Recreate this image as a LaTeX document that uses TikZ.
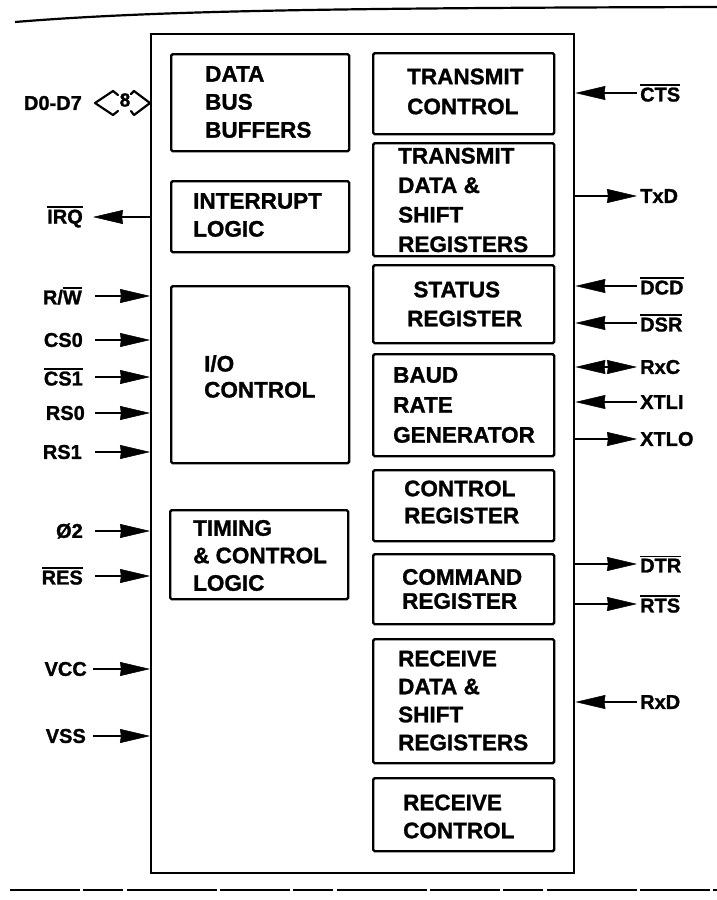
\documentclass[tikz,border=0pt]{standalone}
\usepackage{fontspec}
\setmainfont{Liberation Sans}[BoldFeatures={FakeBold=1.2}]
\usetikzlibrary{arrows.meta}
\newcommand{\ovl}[1]{\leavevmode\vbox{\hrule height 1.6pt\kern 1.6pt\hbox{#1}}}
\begin{document}
\begin{tikzpicture}[x=1pt,y=-1pt,
  blk/.style={draw,line width=2.4pt,rounded corners=1.5pt,inner sep=0pt},
  blktext/.style={anchor=west,align=left,inner sep=0pt,font=\fontsize{22.5}{28}\selectfont\bfseries},
  pinl/.style={anchor=east,inner sep=0pt,font=\fontsize{20}{24}\selectfont\bfseries},
  pinr/.style={anchor=west,inner sep=0pt,font=\fontsize{20}{24}\selectfont\bfseries},
  ahead/.tip={Stealth[length=30pt,width=14pt,inset=1pt,line width=0.5pt]},
  sig/.style={line width=2.2pt,-ahead},
  sigb/.style={line width=2.2pt,ahead-ahead},
]
\useasboundingbox (0,0) rectangle (717,900);
% page edges of the scan
\draw[line width=2.2pt] (15,22) .. controls (150,11) and (320,8) .. (717,7);
\draw[line width=2pt,dash pattern=on 70pt off 3pt on 40pt off 4pt on 90pt off 3pt] (10,890) -- (717,890);

% chip outline
\node[blk,rounded corners=0pt,anchor=north west,minimum width=423pt,minimum height=839pt] (chip) at (150,33) {};

% left column blocks
\node[blk,anchor=north west,minimum width=178pt,minimum height=97pt] (dbb) at (170,53) {};
\node[blk,anchor=north west,minimum width=178pt,minimum height=71pt] (irl) at (170,180) {};
\node[blk,anchor=north west,minimum width=178pt,minimum height=177pt] (ioc) at (170,285) {};
\node[blk,anchor=north west,minimum width=178pt,minimum height=89pt] (tcl) at (169,509) {};

% right column blocks
\node[blk,anchor=north west,minimum width=181pt,minimum height=81pt] (txc) at (372,52) {};
\node[blk,anchor=north west,minimum width=181pt,minimum height=113pt] (txd) at (372,142) {};
\node[blk,anchor=north west,minimum width=181pt,minimum height=78pt] (str) at (372,264) {};
\node[blk,anchor=north west,minimum width=181pt,minimum height=102pt] (brg) at (372,353) {};
\node[blk,anchor=north west,minimum width=181pt,minimum height=71pt] (crg) at (372,469) {};
\node[blk,anchor=north west,minimum width=181pt,minimum height=70pt] (cmd) at (372,553) {};
\node[blk,anchor=north west,minimum width=181pt,minimum height=124pt] (rxd) at (372,638) {};
\node[blk,anchor=north west,minimum width=181pt,minimum height=73pt] (rxc) at (372,777) {};

% block texts
\node[blktext] (tdbb) at (205,102) {DATA\\BUS\\BUFFERS};
\node[blktext] (tirl) at (193,215) {INTERRUPT\\LOGIC};
\node[blktext,font=\fontsize{22.5}{26}\selectfont\bfseries] (tioc) at (204,376.5) {I/O\\CONTROL};
\node[blktext,font=\fontsize{22.5}{27.5}\selectfont\bfseries] (ttcl) at (193,555.5) {TIMING\\\& CONTROL\\LOGIC};
\node[blktext,font=\fontsize{22.5}{30}\selectfont\bfseries] (ttxc) at (407,91.5) {TRANSMIT\\CONTROL};
\node[blktext,font=\fontsize{22.5}{29.5}\selectfont\bfseries] (ttxd) at (398,200) {TRANSMIT\\DATA \&\\SHIFT\\REGISTERS};
\node[blktext,font=\fontsize{22.5}{29}\selectfont\bfseries] (tstr) at (407,304) {\ STATUS\\REGISTER};
\node[blktext,font=\fontsize{22.5}{30}\selectfont\bfseries] (tbrg) at (393,405) {BAUD\\RATE\\GENERATOR};
\node[blktext,font=\fontsize{22.5}{27}\selectfont\bfseries] (tcrg) at (404,502) {CONTROL\\REGISTER};
\node[blktext,font=\fontsize{22.5}{24}\selectfont\bfseries] (tcmd) at (402,589) {COMMAND\\REGISTER};
\node[blktext,font=\fontsize{22.5}{28}\selectfont\bfseries] (trxd) at (398,700.5) {RECEIVE\\DATA \&\\SHIFT\\REGISTERS};
\node[blktext,font=\fontsize{22.5}{28}\selectfont\bfseries] (trxc) at (403,816.5) {RECEIVE\\CONTROL};

% left pins
\node[pinl] (pD) at (82,103) {D0-D7};
\node[pinl] (pIRQ) at (83,217) {\ovl{IRQ}};
\node[pinl] (pRW) at (82,296) {R/\ovl{W}};
\node[pinl] (pCS0) at (83,340) {CS0};
\node[pinl] (pCS1) at (83,377) {\ovl{CS1}};
\node[pinl] (pRS0) at (85,413) {RS0};
\node[pinl] (pRS1) at (82,452) {RS1};
\node[pinl] (pPHI) at (83,531) {Ø2};
\node[pinl] (pRES) at (83,576) {\ovl{RES}};
\node[pinl] (pVCC) at (87,669) {VCC};
\node[pinl] (pVSS) at (86,736) {VSS};

% bus symbol
\node[inner sep=0pt,font=\fontsize{19}{20}\selectfont\bfseries] (b8) at (125,100) {8};
\draw[line width=2.2pt,line join=round,line cap=round] (118,95) -- (113,91) -- (95,103) -- (113,115) -- (118,111);
\draw[line width=2.2pt,line join=round,line cap=round] (131,94) -- (134,91) -- (chip.west |- pD) -- (134,115) -- (131,111);

\coordinate (eIRQ) at (93,217);
\draw[sig] (chip.west |- pIRQ) -- (eIRQ);
\foreach \p/\x in {pRW/95,pCS0/95,pCS1/95,pRS0/95,pRS1/95,pPHI/95,pRES/95,pVCC/93,pVSS/93}{
  \coordinate (s\p) at (\x,0 |- \p);
  \draw[sig] (s\p) -- (chip.west |- \p);
}

% right pins
\node[pinr] (pCTS) at (640,93) {\ovl{CTS}};
\node[pinr] (pTxD) at (640,196) {TxD};
\node[pinr] (pDCD) at (640,286) {\ovl{DCD}};
\node[pinr] (pDSR) at (640,323) {\ovl{DSR}};
\node[pinr] (pRxC) at (640,367) {RxC};
\node[pinr] (pXTLI) at (640,402) {XTLI};
\node[pinr] (pXTLO) at (640,439) {XTLO};
\node[pinr] (pDTR) at (640,564) {\ovl{DTR}};
\node[pinr] (pRTS) at (640,604) {\ovl{RTS}};
\node[pinr] (pRxD) at (640,702) {RxD};

\foreach \p in {pCTS,pTxD,pDCD,pDSR,pRxC,pXTLI,pXTLO,pDTR,pRTS,pRxD}{
  \coordinate (s\p) at (637,0 |- \p);
}
\foreach \p in {pCTS,pDCD,pDSR,pXTLI,pRxD}{
  \draw[sig] (s\p) -- (chip.east |- \p);
}
\foreach \p in {pTxD,pXTLO,pDTR,pRTS}{
  \draw[sig] (chip.east |- \p) -- (s\p);
}
\draw[sigb] (chip.east |- pRxC) -- (spRxC);
\end{tikzpicture}
\end{document}
